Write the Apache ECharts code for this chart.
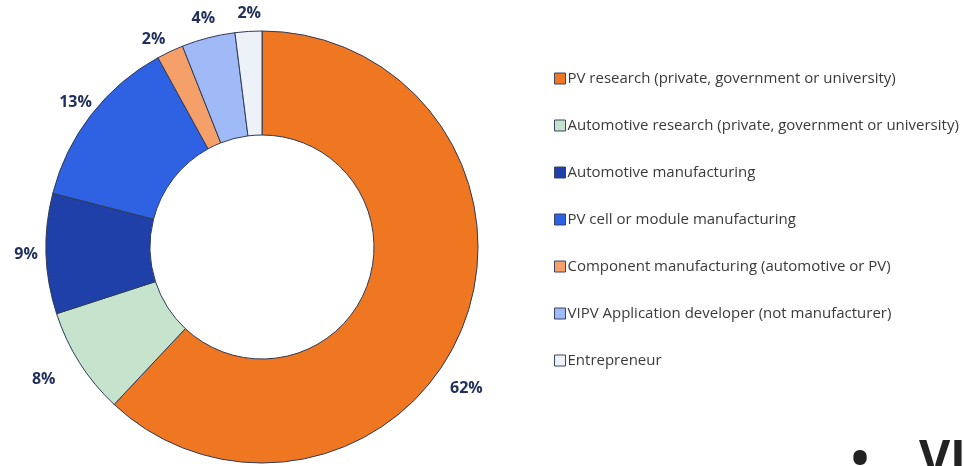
<!DOCTYPE html>
<html>
<head>
<meta charset="utf-8">
<style>
  html, body { margin: 0; padding: 0; background: #ffffff; }
  #chart { width: 966px; height: 466px; }
</style>
<script src="https://cdn.jsdelivr.net/npm/echarts@6/dist/echarts.min.js"></script>
</head>
<body>
<div id="chart"></div>
<script>
// Respondent categories and their shares (%)
const categories = [
  'PV research (private, government or university)',
  'Automotive research (private, government or university)',
  'Automotive manufacturing',
  'PV cell or module manufacturing',
  'Component manufacturing (automotive or PV)',
  'VIPV Application developer (not manufacturer)',
  'Entrepreneur'
];
const shares = [62, 8, 9, 13, 2, 4, 2];
const sliceColors = ['#f07722', '#c6e4cd', '#1f3fa9', '#2f62e2', '#f4a068', '#9fbaf6', '#edf1f8'];

const chart = echarts.init(document.getElementById('chart'));

const CENTER = [262, 247];

chart.setOption({
  backgroundColor: '#ffffff',
  animation: false,
  legend: {
    orient: 'vertical',
    left: 549,
    top: 66,
    itemWidth: 11,
    itemHeight: 11,
    itemGap: 32,
    icon: 'rect',
    textStyle: { fontFamily: 'Open Sans', fontSize: 15, color: '#3a3a3a', padding: [0, 0, 0, -3] },
    itemStyle: { borderColor: '#3b4560', borderWidth: 1 },
    data: categories
  },
  series: [
    {
      // the donut itself
      type: 'pie',
      center: CENTER,
      radius: [112, 216],
      startAngle: 90,
      clockwise: true,
      itemStyle: { borderColor: '#2e3b58', borderWidth: 1 },
      label: { show: false },
      labelLine: { show: false },
      emphasis: { disabled: true },
      data: categories.map((name, i) => ({
        name: name,
        value: shares[i],
        itemStyle: { color: sliceColors[i] }
      }))
    },
    {
      // invisible outer ring that carries the centred percentage labels
      type: 'pie',
      center: CENTER,
      radius: [214, 252],
      startAngle: 90,
      clockwise: true,
      silent: true,
      itemStyle: { color: 'rgba(0,0,0,0)', borderWidth: 0 },
      label: {
        show: true,
        position: 'inside',
        formatter: '{c}%',
        fontFamily: 'Open Sans',
        fontWeight: 'bold',
        fontSize: 16,
        color: '#22305e'
      },
      labelLine: { show: false },
      labelLayout: function (params) {
        if (params.dataIndex === 0) return { dx: -15, dy: 55 };
        if (params.dataIndex === 1) return { dx: -19, dy: 6 };
        if (params.dataIndex === 4) return { dx: -8, dy: 6 };
        if (params.dataIndex === 6) return { dx: 2, dy: 2 };
        return {};
      },
      emphasis: { disabled: true },
      data: categories.map((name, i) => ({ name: name, value: shares[i] }))
    }
  ],
  graphic: [{
    type: 'text',
    left: 851,
    top: 437,
    style: {
      text: '•    VIPV',
      fontFamily: 'Open Sans',
      fontWeight: 'bold',
      fontSize: 48,
      fill: '#222222'
    }
  }]
});
</script>
</body>
</html>
